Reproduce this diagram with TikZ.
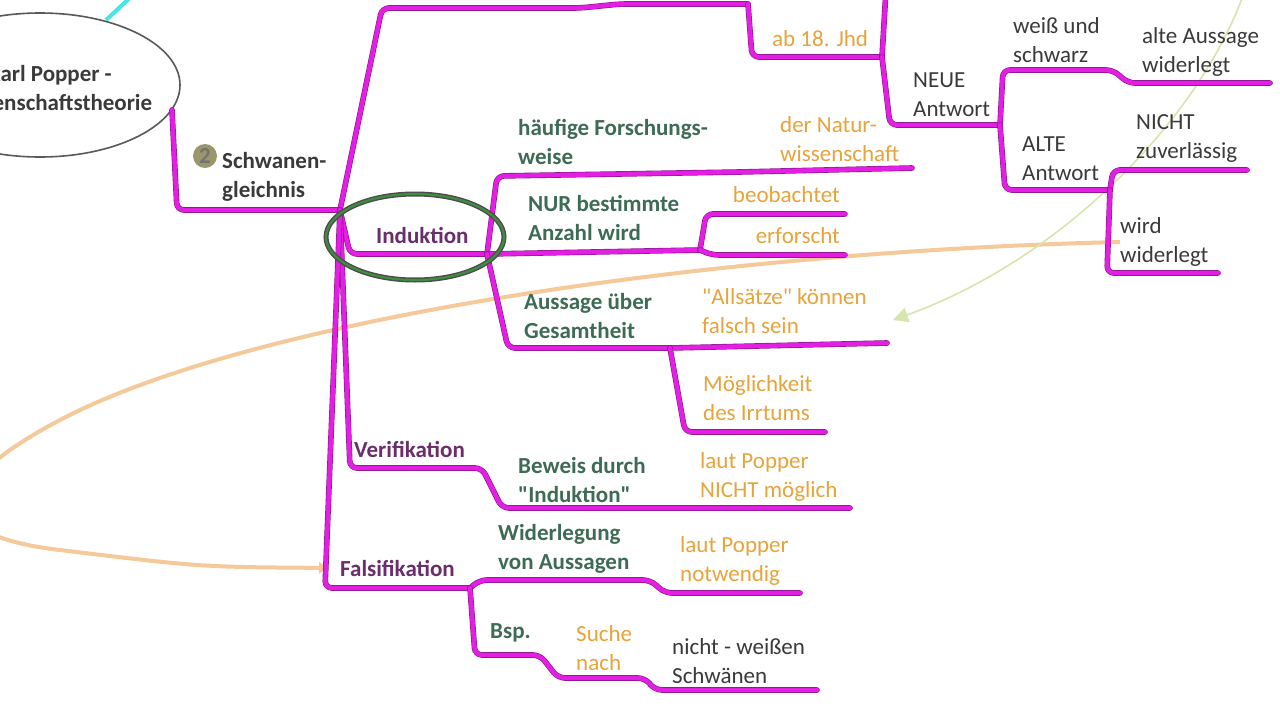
\documentclass[tikz,border=0pt]{standalone}
\usepackage{fontspec}
\setmainfont{Carlito}
\newfontfamily\mmfam{Carlito}
\usepackage{tikz}
\usetikzlibrary{arrows.meta}
\usepackage{xcolor}

\definecolor{mmag}{HTML}{E21FE2}
\definecolor{mshade}{HTML}{8B168B}
\definecolor{mpurple}{HTML}{6B2D6B}
\definecolor{mgreen}{HTML}{3D6B55}
\definecolor{morange}{HTML}{E8A33A}
\definecolor{mgray}{HTML}{3A3A3A}
\definecolor{mline}{HTML}{F6C99A}
\definecolor{mhint}{HTML}{D6E6AE}
\definecolor{mcyan}{HTML}{45E6E6}

\pgfdeclarelayer{bg}
\pgfsetlayers{bg,main}

\newcommand\mmfont{\mmfam\fontsize{23}{29}\selectfont}

\begin{document}
\begin{tikzpicture}[
  x=1pt, y=-1pt,
  >=Latex,
  branch/.style={draw=mmag, line width=4.4pt, rounded corners=7pt, line cap=round,
    preaction={draw=mshade, line width=5.6pt, line cap=round}},
  topic/.style={font=\mmfont\bfseries, text=mgray, align=left, anchor=west, inner sep=0pt},
  lvtwo/.style={topic, text=mpurple},
  lvthree/.style={topic, text=mgreen},
  lvfour/.style={font=\mmfont, text=morange, align=left, anchor=west, inner sep=0pt},
  plain/.style={font=\mmfont, text=mgray, align=left, anchor=west, inner sep=0pt},
]
  \useasboundingbox (0,0) rectangle (1280,720);

  % central topic
  \draw[mcyan, line width=4pt] (133,-5) -- (106,20);
  \draw[draw=black!65, line width=1.6pt, fill=white] (40,85) ellipse [x radius=140, y radius=72];
  \node[topic, anchor=center, align=center] (popper) at (50,88) {Karl Popper -\\Wissenschaftstheorie};

  % junctions
  \coordinate (root) at (172,110);
  \coordinate (jA) at (340,210);
  \coordinate (jTop) at (748,4);
  \coordinate (jJhd) at (882,57);
  \coordinate (jNeue) at (1000,125);
  \coordinate (jAlte) at (1110,190);
  \coordinate (jInd) at (487,254);
  \coordinate (jNur) at (700,250);
  \coordinate (jAuss) at (670,348);
  \coordinate (jFals) at (470,588);

  % branches
  \draw[branch] (root) -- (177,210) -- (jA);
  \draw[branch] (jA) -- (382,8) -- (580,8) -- (620,4) -- (jTop);
  \draw[branch] (jTop) -- (752,57) -- (jJhd);
  \draw[branch] (jJhd) -- (886,-10);
  \draw[branch] (jJhd) -- (890,125) -- (jNeue);
  \draw[branch] (jNeue) -- (1003,70) -- (1113,70) -- (1128,83) -- (1270,83);
  \draw[branch] (jNeue) -- (1005,190) -- (jAlte);
  \draw[branch] (jAlte) -- (1113,170) -- (1247,170);
  \draw[branch] (jAlte) -- (1107,273) -- (1218,273);
  \draw[branch] (jA) -- (350,254) -- (jInd);
  \draw[branch] (jInd) -- (497,176) -- (740,172) -- (912,168);
  \draw[branch] (jInd) -- (jNur);
  \draw[branch] (jNur) -- (706,214) -- (845,214);
  \draw[branch] (jNur) -- (712,255) -- (845,255);
  \draw[branch] (jInd) -- (508,348) -- (jAuss);
  \draw[branch] (jAuss) -- (887,343);
  \draw[branch] (jAuss) -- (685,432) -- (825,432);
  \draw[branch] (jA) -- (350,468) -- (482,468) -- (502,508) -- (850,508);
  \draw[branch] (jA) -- (325,588) -- (jFals);
  \draw[branch] (jFals) -- (480,580) -- (650,580) -- (665,593) -- (800,593);
  \draw[branch] (jFals) -- (475,655) -- (540,655) -- (558,678) -- (645,678) -- (655,690) -- (817,690);

  % marker round Induktion
  \draw[black!70, line width=5pt] (415,237) ellipse [x radius=89, y radius=43];
  \draw[green!40!black!75, line width=2.2pt] (415,237) ellipse [x radius=89, y radius=43];

  % texts
  \node[circle, fill=black!50!olive!60, minimum size=24pt, inner sep=0pt,
    font=\mmfont\bfseries, text=black!55] (num) at (205,156) {2};
  \node[topic] (schw) at (222,177) {Schwanen-\\gleichnis};
  \node[lvtwo] (ind) at (376,235) {Induktion};
  \node[lvtwo] (veri) at (354,449) {Verifikation};
  \node[lvtwo] (fals) at (340,568) {Falsifikation};
  \node[lvthree] (haeuf) at (518,142) {häufige Forschungs-\\weise};
  \node[lvfour] (natur) at (780,139) {der Natur-\\wissenschaft};
  \node[lvthree] (nur) at (528,218) {NUR bestimmte\\Anzahl wird};
  \node[lvfour, anchor=east] (beob) at (840,195) {beobachtet};
  \node[lvfour, anchor=east] (erf) at (840,236) {erforscht};
  \node[lvthree] (auss) at (524,316) {Aussage über\\Gesamtheit};
  \node[lvfour] (alls) at (702,311) {"Allsätze" können\\falsch sein};
  \node[lvfour] (moegl) at (703,398) {Möglichkeit\\des Irrtums};
  \node[lvthree] (bew) at (518,480) {Beweis durch\\"Induktion"};
  \node[lvfour] (lautA) at (700,477) {laut Popper\\NICHT möglich};
  \node[lvthree] (wid) at (498,549) {Widerlegung\\von Aussagen};
  \node[lvfour] (lautB) at (680,561) {laut Popper\\notwendig};
  \node[lvthree] (bsp) at (490,633) {Bsp.};
  \node[lvfour] (such) at (576,648) {Suche\\nach};
  \node[plain] (schwaene) at (672,661) {nicht - weißen\\Schwänen};
  \node[lvfour] (jhd) at (772,39) {ab 18. Jhd};
  \node[plain] (neue) at (913,95) {NEUE\\Antwort};
  \node[plain] (weiss) at (1013,40) {weiß und\\schwarz};
  \node[plain] (alteA) at (1142,52) {alte Aussage\\widerlegt};
  \node[plain] (alteAnt) at (1022,159) {ALTE\\Antwort};
  \node[plain] (nicht) at (1136,139) {NICHT\\zuverlässig};
  \node[plain] (wird) at (1120,242) {wird\\widerlegt};

  % relations
  \coordinate (fromTop) at (1245,-10);
  \coordinate (hintEnd) at (893,320);
  \begin{pgfonlayer}{bg}
    \fill[white] (0,0) rectangle (1280,720);
    \draw[mline, line width=4pt, -{Triangle[length=9pt,width=11pt]}, shorten >=12pt]
      (wird.west) .. controls (700,252) and (250,320) .. (60,420)
      .. controls (-60,483) and (-70,535) .. (60,550)
      .. controls (200,567) .. (fals.west);
    \draw[mhint, line width=1.6pt, -{Triangle[length=15pt,width=15pt]}]
      (fromTop) .. controls (1200,120) and (1060,260) .. (hintEnd);
  \end{pgfonlayer}
\end{tikzpicture}
\end{document}
